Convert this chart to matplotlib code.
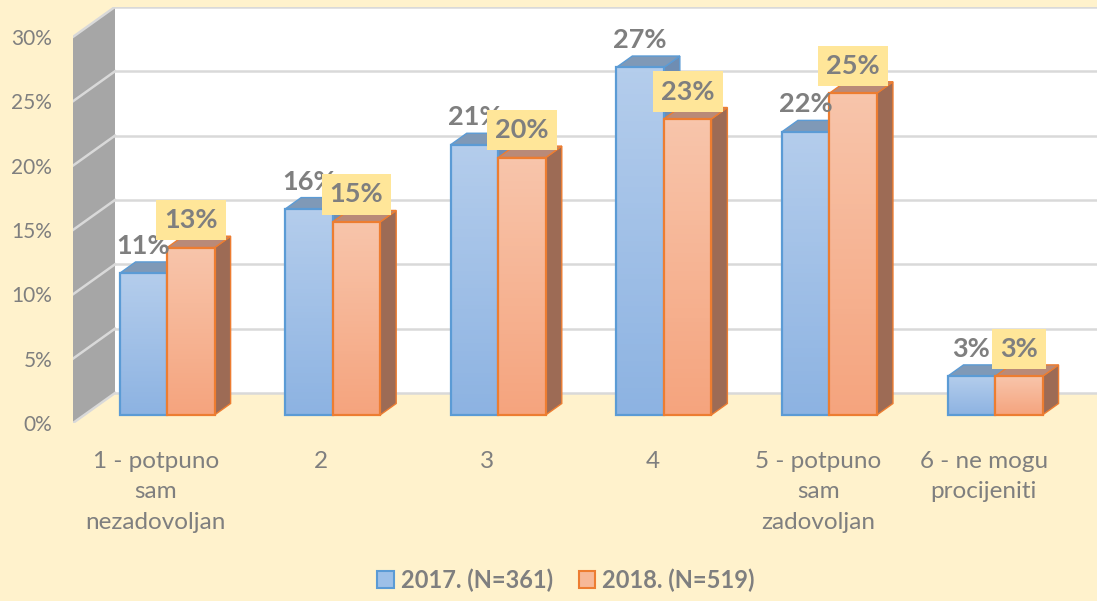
import matplotlib
matplotlib.use("Agg")
import matplotlib.pyplot as plt
import numpy as np
from matplotlib.patches import Polygon, Patch
from matplotlib.colors import LinearSegmentedColormap

# Podaci
kategorije = ["1 - potpuno\nsam\nnezadovoljan", "2", "3", "4",
              "5 - potpuno\nsam\nzadovoljan", "6 - ne mogu\nprocijeniti"]
serije = ["2017. (N=361)", "2018. (N=519)"]
v2017 = [11, 16, 21, 27, 22, 3]
v2018 = [13, 15, 20, 23, 25, 3]
y_ticks = [0, 5, 10, 15, 20, 25, 30]

plt.rcParams['font.family'] = ['Lato', 'DejaVu Sans']
BG = '#FFF2CC'
GREY_TXT = '#7F7F7F'

fig = plt.figure(figsize=(10.97, 6.01), dpi=100, facecolor=BG)
ax = fig.add_axes([73 / 1097, 178 / 601, 1024 / 1097, 416 / 601])
ax.set_facecolor(BG)
for s in ax.spines.values():
    s.set_visible(False)

# oblique "3D" parametri (u jedinicama podataka)
ddx, ddy = 0.2536, 2.33     # dubina zida
f0, bd = 0.27, 0.38         # polozaj i dubina stupaca
bw = 0.287                  # sirina stupca
xmin, xmax = -0.5, 5.684
ymax = 30

# bocni zid
ax.add_patch(Polygon([(xmin, 0), (xmin + ddx, ddy), (xmin + ddx, ymax + ddy), (xmin, ymax)],
                     closed=True, fc='#A6A6A6', ec='none', zorder=1))
# straznji zid
ax.add_patch(Polygon([(xmin + ddx, ddy), (xmax + 1, ddy), (xmax + 1, ymax + ddy), (xmin + ddx, ymax + ddy)],
                     closed=True, fc='white', ec='none', zorder=1))
for t in y_ticks:
    ax.plot([xmin + ddx, xmax + 1], [t + ddy, t + ddy], color='#D9D9D9', lw=1.8, zorder=2)
    ax.plot([xmin, xmin + ddx], [t, t + ddy], color='#D9D9D9', lw=1.8, zorder=2)

stil = [
    dict(top='#B4CDEC', bot='#8DB3E2', edge='#5B9BD5', cap='#7F99B7', side='#6F8DB2'),
    dict(top='#F8C5AB', bot='#F5A47E', edge='#ED7D31', cap='#B98A78', side='#9D6B55'),
]

z = 3
for i in range(len(kategorije)):
    for s, vals in enumerate([v2017, v2018]):
        v = vals[i]
        st = stil[s]
        x0 = i - bw + s * bw + f0 * ddx
        x1 = x0 + bw
        y0 = f0 * ddy
        y1 = v + f0 * ddy
        ox, oy = bd * ddx, bd * ddy
        # desna strana
        ax.add_patch(Polygon([(x1, y0), (x1 + ox, y0 + oy), (x1 + ox, y1 + oy), (x1, y1)],
                             closed=True, fc=st['side'], ec=st['edge'], lw=1.0, zorder=z))
        # vrh
        ax.add_patch(Polygon([(x0, y1), (x1, y1), (x1 + ox, y1 + oy), (x0 + ox, y1 + oy)],
                             closed=True, fc=st['cap'], ec=st['edge'], lw=1.0, zorder=z))
        # prednja strana s gradijentom
        cmap = LinearSegmentedColormap.from_list('g', [st['bot'], st['top']])
        grad = np.linspace(0, 1, 64).reshape(-1, 1)
        ax.imshow(grad, extent=[x0, x1, y0, y1], origin='lower', aspect='auto',
                  cmap=cmap, zorder=z + 0.1)
        ax.add_patch(Polygon([(x0, y0), (x1, y0), (x1, y1), (x0, y1)], closed=True,
                             fc='none', ec=st['edge'], lw=1.6, zorder=z + 0.2))
        z += 1

# oznake vrijednosti
for i in range(len(kategorije)):
    for s, vals in enumerate([v2017, v2018]):
        v = vals[i]
        cx = i - bw + s * bw + f0 * ddx + bw / 2
        kw = dict(ha='center', va='center', fontsize=19.5, fontweight='bold',
                  color=GREY_TXT, textcoords='offset points', xytext=(0, 11.5),
                  zorder=50 + s)
        if s == 1:
            kw['bbox'] = dict(boxstyle='square,pad=0.3', fc='#FFE699', ec='none')
        ax.annotate(f"{v}%", (cx, v + (f0 + bd) * ddy), **kw)

ax.set_xlim(xmin, xmax)
ax.set_ylim(0, 416 / 12.87)
ax.set_yticks(y_ticks, [f"{t}%" for t in y_ticks])
ax.set_xticks(range(len(kategorije)), kategorije)
ax.tick_params(axis='y', length=0, pad=15, labelsize=15, labelcolor=GREY_TXT)
ax.tick_params(axis='x', length=0, pad=20, labelsize=17.5, labelcolor=GREY_TXT)
for lab in ax.get_xticklabels():
    lab.set_linespacing(1.56)
    lab.set_multialignment('center')

handles = [Patch(fc='#9DC0E8', ec='#5B9BD5', lw=1.5),
           Patch(fc='#F7B897', ec='#ED7D31', lw=1.5)]
leg = fig.legend(handles, serije, loc='center', bbox_to_anchor=(0.516, 1 - 580 / 601),
                 ncol=2, frameon=False, handlelength=0.7, handleheight=0.7,
                 handletextpad=0.3, columnspacing=1.1,
                 prop={'size': 17, 'weight': 'bold'})
for t in leg.get_texts():
    t.set_color(GREY_TXT)

fig.savefig('out.png', dpi=100, facecolor=BG)
